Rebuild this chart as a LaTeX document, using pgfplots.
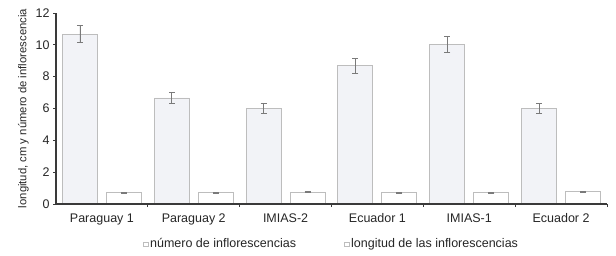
\documentclass[border=0pt]{standalone}
\usepackage{pgfplots}
\pgfplotsset{compat=1.18}
\usepackage{pgfplotstable}
\usepackage{fontspec}
\setmainfont{Liberation Sans}
\usetikzlibrary{calc}
\definecolor{barA}{HTML}{F2F3F7}
\definecolor{edge}{HTML}{BDBDBD}
\definecolor{errc}{HTML}{7A7A7A}
\definecolor{axc}{HTML}{3A3A3A}

\pgfplotstableread{
x y e
0 10.68 0.55
1 6.66 0.36
2 6.00 0.33
3 8.69 0.46
4 10.00 0.50
5 6.02 0.30
}\numtab
\pgfplotstableread{
x y e
0 0.72 0.03
1 0.72 0.03
2 0.75 0.03
3 0.72 0.03
4 0.72 0.03
5 0.78 0.03
}\lentab

\begin{document}
\begin{tikzpicture}
\begin{axis}[
  scale only axis, width=551pt, height=191pt,
  xmin=-0.5, xmax=5.5, ymin=0, ymax=12,
  axis on top,
  axis x line*=bottom, axis y line*=left,
  axis line style={axc, line width=1.2pt},
  ytick={0,2,...,12},
  xtick={0,...,5},
  xticklabels={Paraguay 1, Paraguay 2, IMIAS-2, Ecuador 1, IMIAS-1, Ecuador 2},
  major x tick style={draw=none},
  minor xtick={0.5,1.5,...,5.5},
  minor tick length=3pt, major tick length=3pt,
  tick align=outside,
  tick style={axc, line width=0.8pt},
  ticklabel style={font=\fontsize{12.5}{14}\selectfont, text=black!85},
  /pgf/number format/assume math mode=true,
  xticklabel style={yshift=-3pt},
  ylabel={longitud, cm y número de inflorescencia},
  ylabel style={font=\fontsize{11.3}{13}\selectfont, text=black!85, yshift=0pt},
  ybar=9pt, bar width=35pt,
  legend style={at={(0.5,-0.21)}, anchor=center, draw=none,
    legend columns=2, font=\fontsize{12.5}{14}\selectfont, text=black!85,
    /tikz/every even column/.append style={column sep=46pt}},
  legend image code/.code={\draw[edge, fill=white, line width=0.6pt] (0.02cm,-0.08cm) rectangle (0.18cm,0.08cm);},
]
\addplot[fill=barA, draw=edge, line width=0.9pt,
  error bars/.cd, y dir=both, y explicit,
  error bar style={errc, line width=0.8pt},
  error mark options={errc, rotate=90, mark size=3pt, line width=0.8pt}]
  table[x=x, y=y, y error=e]{\numtab};
\addlegendentry{número de inflorescencias}
\addplot[fill=white, draw=edge, line width=0.9pt,
  error bars/.cd, y dir=both, y explicit,
  error bar style={errc, line width=0.8pt},
  error mark options={errc, rotate=90, mark size=3pt, line width=0.8pt}]
  table[x=x, y=y, y error=e]{\lentab};
\addlegendentry{longitud de las inflorescencias}
\end{axis}
\pgfresetboundingbox
\path[use as bounding box] ($(current axis.south west)+(-56pt,-51pt)$) rectangle ($(current axis.north east)+(9pt,13pt)$);
\end{tikzpicture}
\end{document}
